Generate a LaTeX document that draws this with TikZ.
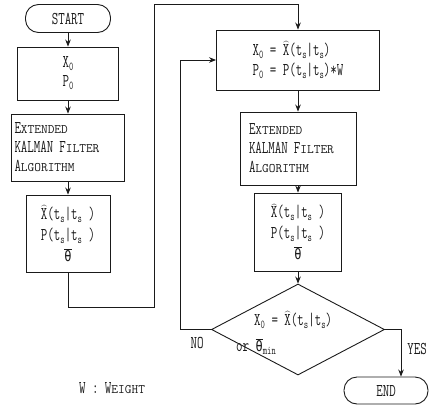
\documentclass[tikz,border=0pt]{standalone}
\usepackage{fontspec}
\setmainfont{Latin Modern Mono}[FakeStretch=0.7]
\newfontfamily\scfam{Latin Modern Mono}[FakeStretch=1.0]
\newfontfamily\grkfam{DejaVu Sans Mono}[FakeStretch=0.8]
\usetikzlibrary{arrows.meta,positioning,shapes.geometric}
\definecolor{fcink}{HTML}{1A1A1A}
\newcommand\smc[2]{#1{\scfam\fontsize{13}{13}\selectfont #2}}
\newcommand\lo[1]{\raisebox{-.4ex}{\fontsize{12}{12}\selectfont #1}}
\newcommand\xhat{$\widehat{\mbox{X}}$}
\newcommand\thbar{$\overline{\mbox{\grkfam\fontsize{15}{15}\selectfont θ}}$}
\tikzset{
  terminal/.style={draw=fcink,rectangle,rounded corners=13pt,minimum width=85pt,minimum height=28pt,line width=.9pt,text=fcink},
  process/.style={draw=fcink,rectangle,line width=.9pt,inner sep=0pt,text=fcink},
  decision/.style={draw=fcink,diamond,line width=.9pt,minimum width=173pt,minimum height=91pt,inner sep=0pt},
  flow/.style={draw=fcink,line width=.9pt},
  flowarr/.style={flow,-{Stealth[length=7pt,width=5.5pt]}},
  txt/.style={text=fcink,inner sep=0pt},
}

\begin{document}
\begin{tikzpicture}[x=1pt,y=-1pt,font=\fontsize{18}{19}\selectfont]
  \useasboundingbox (0,0) rectangle (430,407);

  % left column: first pass
  \node[terminal] (start) at (68,18.5) {START};
  \node[process,minimum width=101pt,minimum height=53pt,align=center] (init) at (68,73.5) {X\lo{0}\\P\lo{0}};
  \node[process,minimum width=113pt,minimum height=67pt,text width=107pt,align=left] (ekf) at (68,147.5)
    {\smc{E}{XTENDED}\\KALMAN \smc{F}{ILTER}\\\smc{A}{LGORITHM}};
  \node[process,minimum width=84pt,minimum height=77pt,align=center] (est) at (68,233.5)
    {\xhat(t\lo{s}|t\lo{s} )\\[2pt]P(t\lo{s}|t\lo{s} )\\[2pt]\thbar};

  \draw[flowarr] (start) -- (init);
  \draw[flowarr] (init) -- (ekf);
  \draw[flowarr] (ekf) -- (est);

  % right column: iteration
  \node[process,minimum width=163pt,minimum height=60pt,align=left] (reinit) at (298,60)
    {X\lo{0} = \xhat(t\lo{s}|t\lo{s})\\[1pt]P\lo{0} = P(t\lo{s}|t\lo{s})*W};
  \node[process,minimum width=116pt,minimum height=73pt,text width=98pt,align=left] (ekf2) at (298,148.5)
    {\smc{E}{XTENDED}\\KALMAN \smc{F}{ILTER}\\\smc{A}{LGORITHM}};
  \node[process,minimum width=87pt,minimum height=78pt,align=center] (est2) at (298,232)
    {\xhat(t\lo{s}|t\lo{s} )\\[2pt]P(t\lo{s}|t\lo{s} )\\[2pt]\thbar};
  \node[decision] (check) at (298,329.5) {};
  \node[txt,align=left,anchor=west] (checktxt) at (236,333)
    {\hspace*{18pt}X\lo{0} = \xhat(t\lo{s}|t\lo{s})\\[7pt]or \thbar\lo{min}};
  \node[terminal,minimum width=84pt,minimum height=27pt] (stop) at (386,390.5) {END};

  \coordinate (lp1) at (154,307);
  \coordinate (lp2) at (154,4);
  \draw[flowarr] (est) |- (lp1) -- (lp2) -| (reinit);
  \draw[flowarr] (reinit) -- (ekf2);
  \draw[flowarr] (ekf2) -- (est2);
  \draw[flowarr] (est2) -- (check);
  \draw[flowarr] (check.west) -- ++(-31,0) |- (reinit.west);
  \draw[flowarr] (check.east) -| ([xshift=15pt]stop.north);

  \node[txt] (nolbl) at (197,343) {NO};
  \node[txt] (yeslbl) at (417,349) {YES};
  \node[txt] (legend) at (112,388) {W : \smc{W}{EIGHT}};
\end{tikzpicture}
\end{document}
